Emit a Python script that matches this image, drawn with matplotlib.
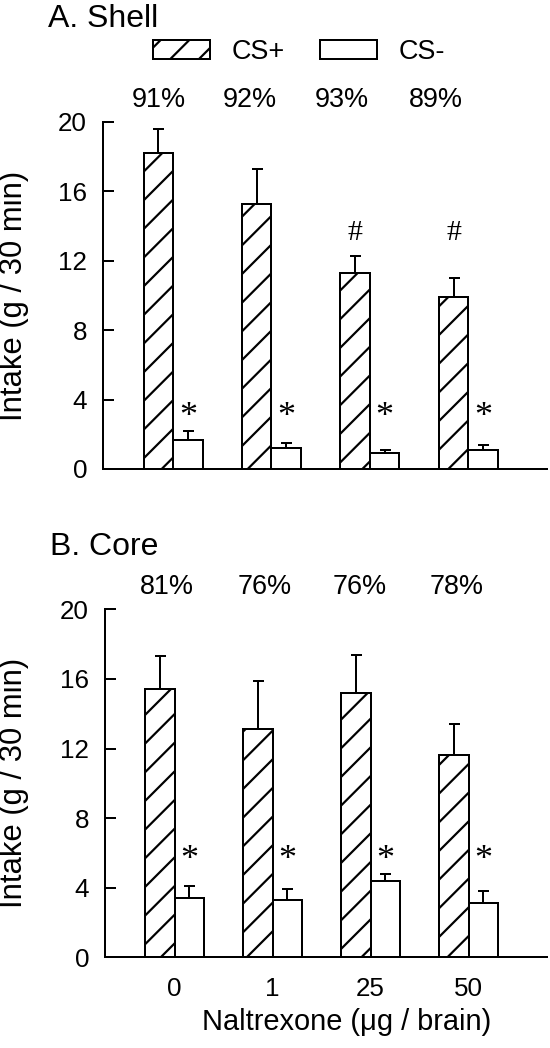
import matplotlib
matplotlib.use("Agg")
import matplotlib.pyplot as plt
import matplotlib.transforms as mtransforms
from matplotlib.patches import Patch
import numpy as np

# ---------------- data ----------------
doses = ["0", "1", "25", "50"]
shell_pct = [91, 92, 93, 89]
core_pct = [81, 76, 76, 78]

shell_cs_plus = [18.2, 15.3, 11.3, 9.9]
shell_cs_plus_err = [1.4, 2.0, 1.0, 1.1]
shell_cs_minus = [1.7, 1.2, 0.9, 1.1]
shell_cs_minus_err = [0.5, 0.3, 0.18, 0.3]
shell_hash = [False, False, True, True]

core_cs_plus = [15.4, 13.1, 15.2, 11.6]
core_cs_plus_err = [1.9, 2.8, 2.2, 1.8]
core_cs_minus = [3.4, 3.3, 4.4, 3.1]
core_cs_minus_err = [0.7, 0.6, 0.4, 0.7]
core_hash = [False, False, False, False]

yticks = [0, 4, 8, 12, 16, 20]

# ---------------- style ----------------
DPI = 86
W, H = 550, 1048


def pt(px):
    return px * 72.0 / DPI


plt.rcParams["font.family"] = ["Liberation Sans", "DejaVu Sans"]
plt.rcParams["hatch.linewidth"] = pt(2.2)
plt.rcParams["hatch.color"] = "black"

fig = plt.figure(figsize=(W / DPI, H / DPI), dpi=DPI)

BW = 0.30
LW = pt(2.0)


def panel(ax, cs_plus, cs_plus_err, cs_minus, cs_minus_err, pct, pct_off,
          hashes, star_y, hash_y, show_x):
    x = np.arange(len(cs_plus))
    ax.bar(x - BW / 2, cs_plus, BW, facecolor="white", edgecolor="black",
           hatch="/", linewidth=LW, zorder=2)
    ax.bar(x + BW / 2, cs_minus, BW, facecolor="white", edgecolor="black",
           linewidth=LW, zorder=2)
    ax.errorbar(x - BW / 2, cs_plus, yerr=[np.zeros(len(x)), cs_plus_err],
                fmt="none", ecolor="black", elinewidth=LW, capsize=pt(5.5),
                capthick=LW, zorder=1)
    ax.errorbar(x + BW / 2, cs_minus, yerr=[np.zeros(len(x)), cs_minus_err],
                fmt="none", ecolor="black", elinewidth=LW, capsize=pt(5.5),
                capthick=LW, zorder=1)
    for i in range(len(x)):
        ax.text(x[i] + BW / 2, star_y, "*", ha="center", va="baseline",
                fontsize=pt(36), family="Liberation Serif")
        if hashes[i]:
            ax.text(x[i] - BW / 2, hash_y, "#", ha="center", va="baseline",
                    fontsize=pt(30), family="Liberation Serif")
    trans = mtransforms.blended_transform_factory(ax.transData, ax.transAxes)
    for i, p in enumerate(pct):
        ax.text(x[i] + pct_off[i], 1.063, f"{p}%", transform=trans,
                ha="center", va="center", fontsize=pt(27))

    ax.set_xlim(-0.712, 3.80)
    ax.set_ylim(0, 20)
    ax.set_yticks(yticks)
    ax.set_yticklabels([str(t) for t in yticks])
    ax.spines["top"].set_visible(False)
    ax.spines["right"].set_visible(False)
    ax.spines["left"].set_linewidth(LW)
    ax.spines["bottom"].set_linewidth(LW)
    ax.tick_params(axis="y", direction="in", length=pt(10.7), width=LW,
                   pad=pt(16), labelsize=pt(26))
    ax.set_xticks(x)
    if show_x:
        ax.set_xticklabels(doses)
    else:
        ax.set_xticklabels([])
    ax.tick_params(axis="x", length=0, pad=pt(20), labelsize=pt(26))


ax1 = fig.add_axes([103 / W, 1 - 469 / H, (547 - 103) / W, (469 - 122) / H])
panel(ax1, shell_cs_plus, shell_cs_plus_err, shell_cs_minus, shell_cs_minus_err,
      shell_pct, [-0.14, -0.22, -0.29, -0.33], shell_hash, 2.5, 13.2, False)

ax2 = fig.add_axes([105 / W, 1 - 957.3 / H, (547 - 105) / W, (957.3 - 609.3) / H])
panel(ax2, core_cs_plus, core_cs_plus_err, core_cs_minus, core_cs_minus_err,
      core_pct, [-0.076, -0.08, -0.11, -0.12], core_hash, 5.07, 13.2, True)

# titles
fig.text(48 / W, 1 - 27 / H, "A. Shell", fontsize=pt(32), ha="left", va="baseline")
fig.text(50 / W, 1 - 555 / H, "B. Core", fontsize=pt(32), ha="left", va="baseline")

# y labels
fig.text(14 / W, 1 - 295.5 / H, "Intake (g / 30 min)", rotation=90,
         fontsize=pt(31), ha="center", va="center")
fig.text(14 / W, 1 - 783 / H, "Intake (g / 30 min)", rotation=90,
         fontsize=pt(31), ha="center", va="center")

# x label
fig.text(346.5 / W, 1 - 1030 / H, "Naltrexone (μg / brain)", fontsize=pt(29),
         ha="center", va="baseline")

# legend
handles = [Patch(facecolor="white", edgecolor="black", hatch="/", linewidth=LW),
           Patch(facecolor="white", edgecolor="black", linewidth=LW)]
fig.legend(handles, ["CS+", "CS-"], ncol=2, frameon=False, fontsize=pt(27),
           handlelength=57 / 27, handleheight=19 / 27, handletextpad=22 / 27,
           columnspacing=35 / 27, loc="center", bbox_to_anchor=(299 / W, 1 - 52 / H),
           borderpad=0, borderaxespad=0)

fig.savefig("out.png", dpi=DPI)
